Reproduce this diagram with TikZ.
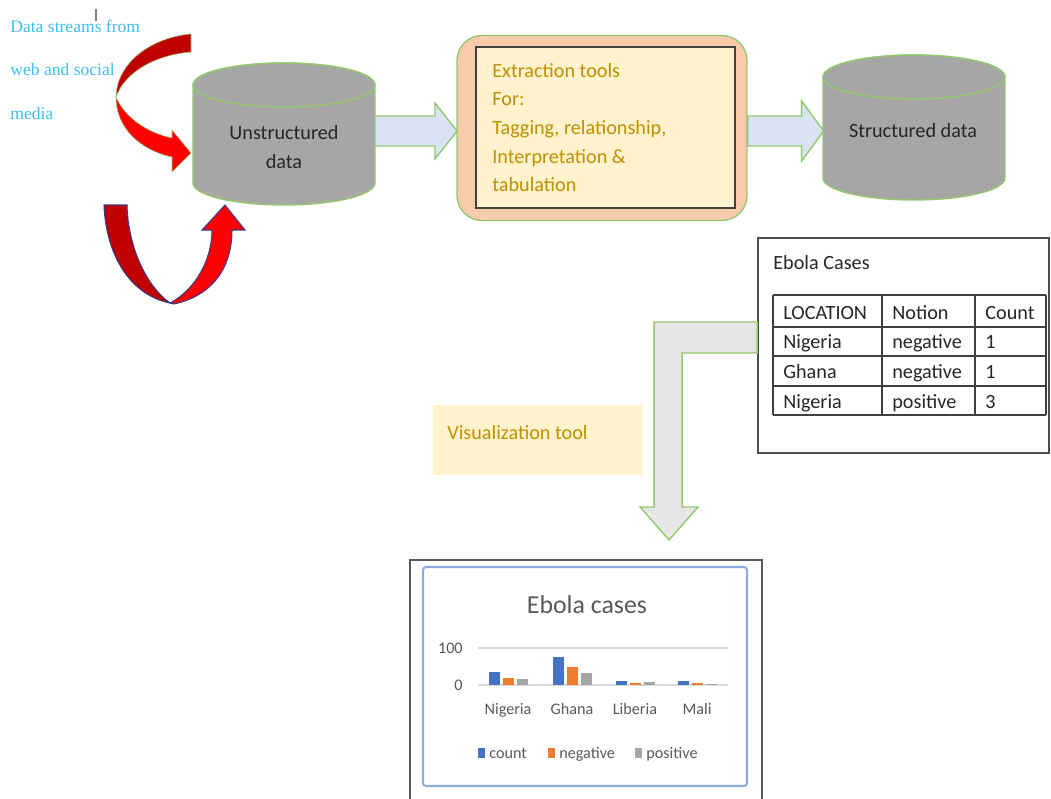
\documentclass[tikz,border=0pt]{standalone}
\usepackage{fontspec}
\setmainfont{Carlito}
\newfontfamily\seriffont{Liberation Serif}
\usetikzlibrary{calc}

\definecolor{cylgray}{RGB}{166,166,166}
\definecolor{edgegreen}{RGB}{146,200,110}
\definecolor{arrowblue}{RGB}{218,227,243}
\definecolor{peach}{RGB}{248,203,173}
\definecolor{paleyellow}{RGB}{255,242,204}
\definecolor{gold}{RGB}{191,144,0}
\definecolor{streamblue}{RGB}{60,190,240}
\definecolor{darkred}{RGB}{192,0,0}
\definecolor{navyline}{RGB}{60,60,140}
\definecolor{lightgray}{RGB}{231,230,230}
\definecolor{chartblue}{RGB}{143,170,220}
\definecolor{countblue}{RGB}{68,114,196}
\definecolor{negorange}{RGB}{237,125,49}
\definecolor{posgray}{RGB}{165,165,165}
\definecolor{textgray}{RGB}{38,38,38}
\definecolor{axisgray}{RGB}{89,89,89}
\definecolor{gridgray}{RGB}{217,217,217}

\begin{document}
\begin{tikzpicture}[x=0.02cm, y=-0.02cm,
  cyl/.style={fill=cylgray, draw=edgegreen, line width=0.8pt},
  cyltext/.style={text=textgray, font=\fontsize{11.5}{17}\selectfont, align=center},
  blockarrow/.style={fill=arrowblue, draw=edgegreen, line width=0.8pt},
  bentarrow/.style={fill=lightgray, draw=edgegreen, line width=0.8pt},
  outerbox/.style={fill=peach, draw=edgegreen, line width=0.8pt, rounded corners=0.5cm, inner sep=0pt},
  innerbox/.style={fill=paleyellow, draw=black!75, line width=1.6pt, inner sep=0pt},
  visbox/.style={fill=paleyellow, inner sep=0pt},
  tblbox/.style={fill=white, draw=black!70, line width=1.1pt, inner sep=0pt},
  tabline/.style={draw=black!75, line width=0.8pt},
  goldtext/.style={text=gold, font=\fontsize{11.5}{14}\selectfont, inner sep=0pt},
  streamtext/.style={text=streamblue, font=\seriffont\fontsize{10}{12}\selectfont, inner sep=0pt, anchor=base west},
  tabtext/.style={text=textgray, font=\fontsize{11.5}{14}\selectfont, inner sep=0pt, anchor=base west},
  charttext/.style={text=axisgray, font=\fontsize{9.2}{11}\selectfont, inner sep=0pt},
  charttitle/.style={text=axisgray, font=\fontsize{14.7}{17}\selectfont, inner sep=0pt, anchor=base},
  chartframe/.style={draw=black!65, line width=1.1pt},
  chartborder/.style={draw=chartblue, line width=1.2pt, rounded corners=0.06cm},
  gridline/.style={draw=gridgray, line width=0.6pt}
]
\useasboundingbox (0,0) rectangle (1051,798);

% cursor mark and source text
\draw[gray, line width=1pt] (96,9) -- (96,21);
\foreach \txt [count=\i] in {Data streams from, web and social, media}
  \node[streamtext] (stream\i) at (10,{-11.5+43.5*\i}) {\txt};

% curved arrow from the top
\filldraw[fill=red, draw=edgegreen, line width=0.3pt] (116,97) .. controls (116,128) and (140,150) .. (172,157)
  -- (172,172) -- (191,153) -- (172,130) -- (172,138) .. controls (148,133) and (125,118) .. (116,97) -- cycle;
\filldraw[fill=darkred, draw=edgegreen, line width=0.3pt] (191,34) .. controls (155,37) and (117,60) .. (116,97)
  .. controls (125,72) and (155,55) .. (191,52) -- cycle;

% u-turn arrow from below
\filldraw[fill=darkred, draw=navyline, line width=0.6pt] (104,205) -- (127,205) .. controls (128,245) and (145,285) .. (170,303)
  .. controls (130,295) and (106,255) .. (104,205) -- cycle;
\filldraw[fill=red, draw=navyline, line width=0.6pt] (170,303) .. controls (195,290) and (212,260) .. (212,230)
  -- (202,230) -- (225,205) -- (245,230) -- (232,230) .. controls (232,265) and (215,295) .. (174,304) -- cycle;

% cylinders
\foreach \nm/\cx/\cy/\ht in {unstr/284/85/98, str/914/77/101}{
  \filldraw[cyl] (\cx-91,\cy) -- ++(0,\ht) arc (180:360:1.82cm and 0.44cm)
    -- ++(0,-\ht) arc (0:180:1.82cm and 0.44cm) -- cycle;
  \filldraw[cyl] (\cx,\cy) ellipse (1.82cm and 0.44cm);
  \coordinate (\nm-w) at (\cx-91,131);
  \coordinate (\nm-e) at (\cx+91,131);
}
\node[cyltext] (unstrtxt) at (284,147) {Unstructured\\data};
\node[cyltext] (strtxt) at (913,131) {Structured data};

% extraction tools
\node[outerbox, minimum width=5.8cm, minimum height=3.7cm] (extract) at (602,128) {};
\node[innerbox, minimum width=5.18cm, minimum height=3.22cm] (extractin) at (605.5,127.5) {};
\foreach \txt [count=\i] in {Extraction tools, For:, {Tagging, relationship,}, Interpretation \&, tabulation}
  \node[goldtext, anchor=base west] (ext\i) at (492,{48.3+28.7*\i}) {\txt};

% block arrows
\filldraw[blockarrow] ($(unstr-e)+(0,-15)$) -- ++(60,0) -- ++(0,-13) -- ++(22,28) -- ++(-22,28)
  -- ++(0,-13) -- ++(-60,0) -- cycle;
\filldraw[blockarrow] ($(extract.east |- str-w)+(0,-15)$) -- ++(54,0) -- ++(0,-15) -- ++(22,30) -- ++(-22,30)
  -- ++(0,-15) -- ++(-54,0) -- cycle;

% table
\node[tblbox, minimum width=5.82cm, minimum height=4.3cm] (tbl) at (903.5,345.5) {};
\node[tabtext] (tbltitle) at (773,269) {Ebola Cases};
\foreach \ry in {295,327,356,386,415}
  \draw[tabline] (773,\ry) -- (1046,\ry);
\foreach \cx in {773,882,975,1046}
  \draw[tabline] (\cx,295) -- (\cx,415);
\foreach \loc/\notion/\cnt [count=\r] in {LOCATION/Notion/Count, Nigeria/negative/1, Ghana/negative/1, Nigeria/positive/3}{
  \node[tabtext] (loc\r) at (783,{289.3+29.7*\r}) {\loc};
  \node[tabtext] (notion\r) at (892,{289.3+29.7*\r}) {\notion};
  \node[tabtext] (count\r) at (985,{289.3+29.7*\r}) {\cnt};
}

% visualization
\node[visbox, minimum width=4.2cm, minimum height=1.4cm] (vis) at (538,440) {};
\node[goldtext, anchor=base west] (vistxt) at (447,439) {Visualization tool};
\filldraw[bentarrow] ($(tbl.west)+(0,-23.5)$) -- ++(-103,0) -- ++(0,185) -- ++(-14,0) -- ++(29,33)
  -- ++(29,-33) -- ++(-16,0) -- ++(0,-154) -- ($(tbl.west)+(0,7.5)$) -- cycle;

% chart
\draw[chartframe] (410,800) -- (410,560) -- (762,560) -- (762,800);
\draw[chartborder] (423,567) rectangle (747,786);
\node[charttitle] (charttitle) at (587,613) {Ebola cases};
\draw[gridline] (478,648) -- (728,648);
\draw[gridline] (478,685) -- (728,685);
\node[charttext, anchor=base east] (tick100) at (463,653) {100};
\node[charttext, anchor=base east] (tick0) at (463,690) {0};
\foreach \gx/\ca/\cb/\cc/\lbl [count=\g] in {489/35/19/15/Nigeria, 553/76/48/32/Ghana, 616/10/5/8/Liberia, 678/10/5/4/Mali}{
  \fill[countblue] (\gx,685) rectangle ++(11,-0.37*\ca);
  \fill[negorange] (\gx+14,685) rectangle ++(11,-0.37*\cb);
  \fill[posgray] (\gx+28,685) rectangle ++(11,-0.37*\cc);
  \node[charttext, anchor=base] (cat\g) at (\gx+19,714) {\lbl};
}
\foreach \col/\lbl/\lx in {countblue/count/478, negorange/negative/548, posgray/positive/635}{
  \fill[\col] (\lx,748) rectangle ++(7,10);
  \node[charttext, anchor=base west] (leg-\lbl) at (\lx+11,758) {\lbl};
}
\end{tikzpicture}
\end{document}
